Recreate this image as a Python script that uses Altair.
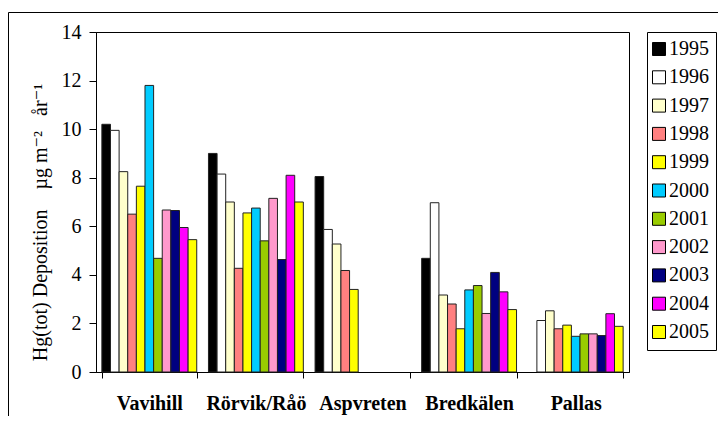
import altair as alt
import pandas as pd

sites = ["Vavihill", "Rörvik/Råö", "Aspvreten", "Bredkälen", "Pallas"]
years = ["1995", "1996", "1997", "1998", "1999", "2000",
         "2001", "2002", "2003", "2004", "2005"]
colors = ["#000000", "#FFFFFF", "#FFFFCC", "#FF8080", "#FFFF00", "#00CCFF",
          "#99CC00", "#FF99CC", "#000080", "#FF00FF", "#FFFF00"]

vavihill = [10.2, 9.95, 8.25, 6.5, 7.65, 11.8, 4.68, 6.67, 6.65, 5.95, 5.45]
rorvik = [9.0, 8.15, 7.0, 4.27, 6.55, 6.75, 5.4, 7.15, 4.63, 8.1, 7.0]
aspvreten = [8.05, 5.87, 5.27, 4.18, 3.4, None, None, None, None, None, None]
bredkalen = [4.68, 6.97, 3.17, 2.8, 1.78, 3.38, 3.56, 2.41, 4.1, 3.3, 2.57]
pallas = [None, 2.12, 2.52, 1.78, 1.93, 1.47, 1.57, 1.57, 1.5, 2.4, 1.88]

series = [vavihill, rorvik, aspvreten, bredkalen, pallas]
rows = []
for site, vals in zip(sites, series):
    for yr, v in zip(years, vals):
        if v is not None:
            rows.append({"site": site, "year": yr, "value": v})
df = pd.DataFrame(rows)

FONT = "'Liberation Serif', 'Times New Roman', 'DejaVu Serif', serif"
Y_TITLE = "Hg(tot) Deposition\u00a0\u00a0\u00a0 µg m⁻²\u00a0\u00a0 år⁻¹"

bars = alt.Chart(df).mark_bar(stroke="#222222", strokeWidth=1).encode(
    x=alt.X("site:N", sort=sites,
            scale=alt.Scale(paddingInner=0.11, paddingOuter=0.055),
            axis=alt.Axis(title=None, labelAngle=0, labelFontWeight="bold",
                          labelFontSize=20, labelFont=FONT, labelColor="black",
                          tickBand="extent", tickSize=6, tickColor="black",
                          domainColor="black", labelPadding=15)),
    xOffset=alt.XOffset("year:N", sort=years,
                        scale=alt.Scale(domain=years, paddingInner=0, paddingOuter=0)),
    y=alt.Y("value:Q",
            scale=alt.Scale(domain=[0, 14], nice=False),
            axis=alt.Axis(values=[0, 2, 4, 6, 8, 10, 12, 14], grid=False,
                          title=Y_TITLE,
                          titleFont=FONT, titleFontSize=20, titleFontWeight="normal",
                          titleColor="black", titleX=-56, titleY=190,
                          titleAngle=270, titleAlign="center", titleBaseline="middle",
                          labelFont=FONT, labelFontSize=20, labelColor="black",
                          tickSize=7, tickColor="black", domainColor="black",
                          labelPadding=8)),
    color=alt.Color("year:N", sort=years,
                    scale=alt.Scale(domain=years, range=colors),
                    legend=alt.Legend(title=None, orient="none", legendX=551, legendY=0,
                                      symbolType="square", symbolSize=169,
                                      symbolStrokeColor="black", symbolStrokeWidth=1,
                                      symbolOpacity=1, symbolOffset=-5,
                                      labelFont=FONT, labelFontSize=20, labelColor="black",
                                      labelOffset=0, rowPadding=8.3, padding=7,
                                      strokeColor="black", fillColor="white")),
)

frame = alt.Chart(alt.Data(values=[{"a": 1}])).mark_rect(
    fill=None, stroke="black", strokeWidth=1, clip=False
).encode(
    x=alt.value(-87.5), x2=alt.value(800),
    y=alt.value(-19.5), y2=alt.value(600),
)

chart = alt.layer(frame, bars).properties(
    width=533, height=340,
    autosize=alt.AutoSizeParams(type="none"),
    padding={"left": 88, "top": 24, "right": 89, "bottom": 44},
    background="white",
).configure_view(stroke="black", strokeWidth=1)

chart.save("out.html", embed_options={"renderer": "svg", "actions": False})
